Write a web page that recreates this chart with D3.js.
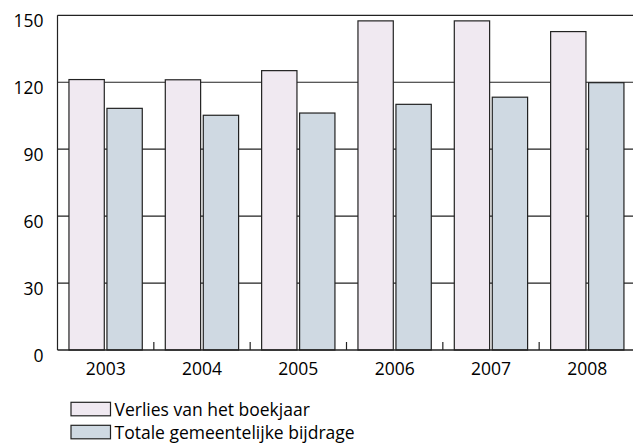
<!DOCTYPE html>
<html><head><meta charset="utf-8">
<script src="https://cdn.jsdelivr.net/npm/d3@7"></script>
<style>
html,body{margin:0;padding:0;background:#fff;}
svg{display:block;font-family:"Open Sans",sans-serif;}
</style></head>
<body><svg id="c" width="633" height="443"></svg>
<script>
const years = ["2003","2004","2005","2006","2007","2008"];
const verlies = [121.2, 121.1, 125.2, 147.5, 147.5, 142.7];
const bijdrage = [108.3, 105.2, 106.2, 110.1, 113.3, 119.8];
const seriesNames = ["Verlies van het boekjaar", "Totale gemeentelijke bijdrage"];
const seriesColors = ["#f0e9f1", "#cfd9e2"];
const yTicks = [0, 30, 60, 90, 120, 150];

(function(){
const svg = d3.select("#c");
const pL = 57.5, pR = 635.5, pT = 15.3, pB = 350;

const x = d3.scaleBand().domain(years).range([pL, pR]).padding(0);
const bw = x.bandwidth();
const x1 = d3.scaleBand().domain([0,1]).range([bw*0.119, bw*0.88]).paddingInner(0.07);
const y = d3.scaleLinear().domain([0,150]).range([pB, pT]);

// gridlines
svg.append("g").selectAll("line").data(yTicks.filter(d=>d>0)).join("line")
  .attr("x1", pL).attr("x2", 633)
  .attr("y1", d=>y(d)).attr("y2", d=>y(d))
  .attr("stroke", "#222").attr("stroke-width", 1.2);

// y labels
svg.append("g").selectAll("text").data(yTicks).join("text")
  .attr("x", 43.5).attr("y", d=>y(d)+5)
  .attr("text-anchor","end").attr("dominant-baseline","central")
  .attr("font-size", 17.5).attr("fill","#000")
  .text(d=>d);

// bars
const series = [verlies, bijdrage];
const g = svg.append("g");
years.forEach((yr,i)=>{
  series.forEach((s,j)=>{
    g.append("rect")
      .attr("x", x(yr)+x1(j)).attr("width", x1.bandwidth())
      .attr("y", y(s[i])).attr("height", y(0)-y(s[i]))
      .attr("fill", seriesColors[j]).attr("stroke","#222").attr("stroke-width",1.2);
  });
});

// axes lines
svg.append("line").attr("x1",pL).attr("x2",pL).attr("y1",pT).attr("y2",pB)
  .attr("stroke","#222").attr("stroke-width",1.2);
svg.append("line").attr("x1",pL).attr("x2",633).attr("y1",pB).attr("y2",pB)
  .attr("stroke","#222").attr("stroke-width",1.4);

// category boundary ticks
svg.append("g").selectAll("line").data(years.slice(1)).join("line")
  .attr("x1", d=>x(d)).attr("x2", d=>x(d))
  .attr("y1", pB).attr("y2", pB-8)
  .attr("stroke","#222").attr("stroke-width",1.2);

// x labels
svg.append("g").selectAll("text").data(years).join("text")
  .attr("x", d=>x(d)+bw/2).attr("y", 375)
  .attr("text-anchor","middle").attr("font-size",17.5).attr("fill","#000")
  .text(d=>d);

// legend
const lg = svg.append("g");
seriesNames.forEach((n,j)=>{
  const yy = 402.3 + j*23;
  lg.append("rect").attr("x",71).attr("y",yy).attr("width",39.5).attr("height",13.5)
    .attr("fill",seriesColors[j]).attr("stroke","#222").attr("stroke-width",1.2);
  lg.append("text").attr("x",114.5).attr("y",yy+13.2)
    .attr("font-size",17.5).attr("fill","#000").text(n);
});
})();
</script>
</body></html>
